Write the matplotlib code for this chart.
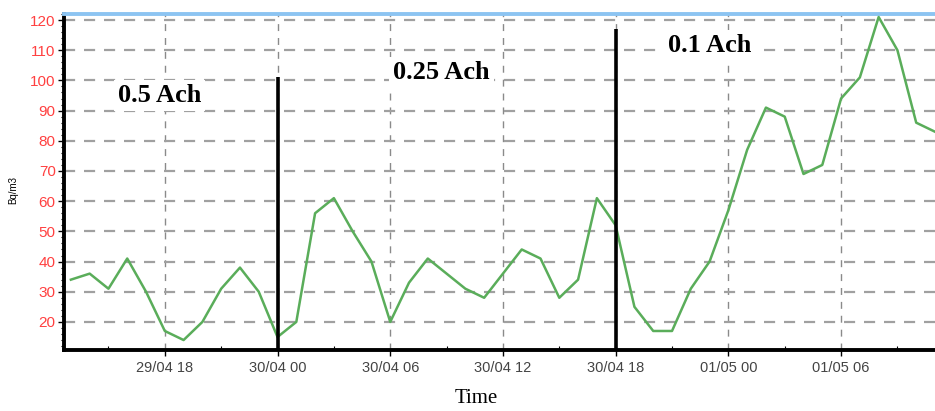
import numpy as np
import pandas as pd
import matplotlib
matplotlib.use("Agg")
from matplotlib import pyplot as plt
import matplotlib.dates as mdates
from matplotlib.ticker import MultipleLocator

# hourly radon readings (Bq/m3), starting 29/04 13:00
start = "2010-04-29 13:00"
radon = [34, 36, 31, 41, 30, 17, 14, 20, 31, 38, 30, 15,
         20, 56, 61, 50, 40, 20, 33, 41, 36, 31, 28, 36,
         44, 41, 28, 34, 61, 52, 25, 17, 17, 31, 40, 57,
         77, 91, 88, 69, 72, 94, 101, 121, 110, 86, 83]

# ventilation regime changes and the marker heights
change_times = ["2010-04-30 00:00", "2010-04-30 18:00"]
change_tops = [101, 117]
labels = ["0.5 Ach", "0.25 Ach", "0.1 Ach"]
label_times = ["2010-04-29 15:30", "2010-04-30 06:08", "2010-04-30 20:47"]
label_vals = [95, 102.5, 111.4]

yticks = list(range(20, 121, 10))

t = pd.date_range(start, periods=len(radon), freq="h")

fig = plt.figure(figsize=(9.35, 4.11), dpi=100)
ax = fig.add_axes([64 / 935, 61 / 411, 871 / 935, 336 / 411])

ax.plot(t, radon, color="#5aad5a", lw=1.8, zorder=3)

ymin = 10.7
ax.vlines(pd.to_datetime(change_times), ymin, change_tops, color="black", lw=2.6, zorder=4)

for txt, lt, lv in zip(labels, label_times, label_vals):
    ax.text(pd.Timestamp(lt), lv, txt, fontsize=19, fontweight="bold",
            family="Liberation Serif", ha="left", va="center", zorder=5,
            bbox=dict(facecolor="white", edgecolor="none", pad=3))

ax.set_ylim(ymin, 122)
ax.set_xlim(pd.Timestamp("2010-04-29 12:38"), pd.Timestamp("2010-05-01 11:00"))

ax.set_yticks(yticks)
ax.yaxis.set_minor_locator(MultipleLocator(2))
ax.xaxis.set_major_locator(mdates.HourLocator(byhour=[0, 6, 12, 18]))
ax.xaxis.set_minor_locator(mdates.HourLocator(byhour=[3, 9, 15, 21]))
ax.xaxis.set_major_formatter(mdates.DateFormatter("%d/%m %H"))

for lab in ax.get_yticklabels():
    lab.set_color("#ff4040")
    lab.set_family("Liberation Sans")
    lab.set_fontsize(11)
for lab in ax.get_xticklabels():
    lab.set_color("#444444")
    lab.set_family("Liberation Sans")
    lab.set_fontsize(10.5)

ax.tick_params(axis="y", which="major", length=4, width=1, pad=2)
ax.tick_params(axis="y", which="minor", length=2, width=0.8)
ax.tick_params(axis="x", which="major", length=4, width=1, pad=4)
ax.tick_params(axis="x", which="minor", length=3, width=0.8, direction="in")

ax.yaxis.grid(True, color="#a0a0a0", lw=1.6, linestyle=(0, (5, 4)))
ax.xaxis.grid(True, color="#8a8a8a", lw=1.0, linestyle=(0, (5, 5)))
ax.set_axisbelow(True)

for side in ["left", "bottom"]:
    ax.spines[side].set_linewidth(2.8)
    ax.spines[side].set_color("black")
ax.spines["top"].set_color("#8cc4f2")
ax.spines["top"].set_linewidth(2.8)
ax.spines["right"].set_visible(False)

ax.set_ylabel("Bq/m3", fontsize=7, family="Liberation Sans")
ax.yaxis.set_label_coords(-0.053, 0.476)
ax.set_xlabel("Time", fontsize=15, family="Liberation Serif", va="center")
ax.xaxis.set_label_coords(0.473, -0.143)

fig.savefig("out.png", dpi=100)
plt.close(fig)
